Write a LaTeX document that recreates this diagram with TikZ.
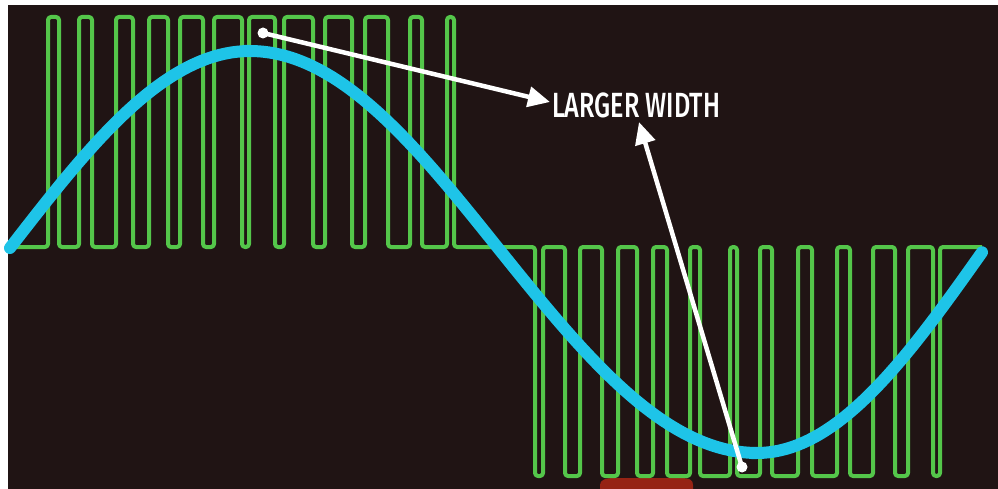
\documentclass[tikz,border=0pt]{standalone}
\usepackage{fontspec}
\newfontfamily\labelfont[FakeStretch=0.72, UprightFont={* Medium}]{Fira Sans}
\usetikzlibrary{arrows.meta}
\definecolor{bg}{RGB}{32,20,20}
\definecolor{pwm}{RGB}{84,198,74}
\definecolor{sine}{RGB}{30,196,232}
\definecolor{blob}{RGB}{150,35,20}
\tikzset{
  pwmline/.style={draw=pwm, line width=4pt, rounded corners=3pt, line join=round},
  sineline/.style={draw=sine, line width=12pt, line cap=round},
  pointer/.style={draw=white, line width=4.5pt, -{Triangle[length=22pt,width=20pt]}},
  dotstyle/.style={fill=white},
  labelstyle/.style={text=white, inner sep=0pt, font=\labelfont\fontsize{35}{40}\selectfont}
}
\begin{document}
\begin{tikzpicture}[x=1pt,y=-1pt]
\useasboundingbox (0,0) rectangle (998,489);
\fill[white] (0,0) rectangle (998,489);
\fill[bg] (8,5) rectangle (998,489);
% red blob at bottom edge
\fill[blob] (600,489) -- (600,485) .. controls (600,480) and (605,478) .. (615,478) -- (680,478) .. controls (690,478) and (693,480) .. (693,485) -- (693,489) -- cycle;
% PWM waveform
\draw[pwmline] (12,247)
  \foreach \a/\b in {48/59,79/92,116/133,149/168,180/203,214/242,249/275,284/313,325/352,365/388,410/422,447/454}
   { -- (\a,247) -- (\a,17) -- (\b,17) -- (\b,247) }
  \foreach \a/\b in {535/543,565/580,602/618,637/653,667/690,700/730,737/760,772/798,812/837,850/873,895/908,933/940}
   { -- (\a,247) -- (\a,476) -- (\b,476) -- (\b,247) }
  -- (982,247);
% sine
\draw[sineline] plot[domain=10:250, samples=40] (\x,{248-197*sin(0.375*(\x-10))})
  -- plot[domain=250:498, samples=40] (\x,{248-197*cos(0.3629*(\x-250))})
  -- plot[domain=498:757, samples=40] (\x,{248+205*sin(0.3475*(\x-498))})
  -- plot[domain=757:982, samples=40] (\x,{248+205*cos(0.3947*(\x-757))});
% label and arrows
\node[labelstyle, anchor=west] (label) at (552,105) {LARGER WIDTH};
\coordinate (dotA) at (263,33);
\coordinate (dotB) at (742,467);
\coordinate (tipA) at (550,102);
\coordinate (tipB) at (639,122);
\draw[pointer] (dotA) -- (tipA);
\draw[pointer] (dotB) -- (tipB);
\fill[dotstyle] (dotA) circle (5.5pt);
\fill[dotstyle] (dotB) circle (5.5pt);
\end{tikzpicture}
\end{document}
